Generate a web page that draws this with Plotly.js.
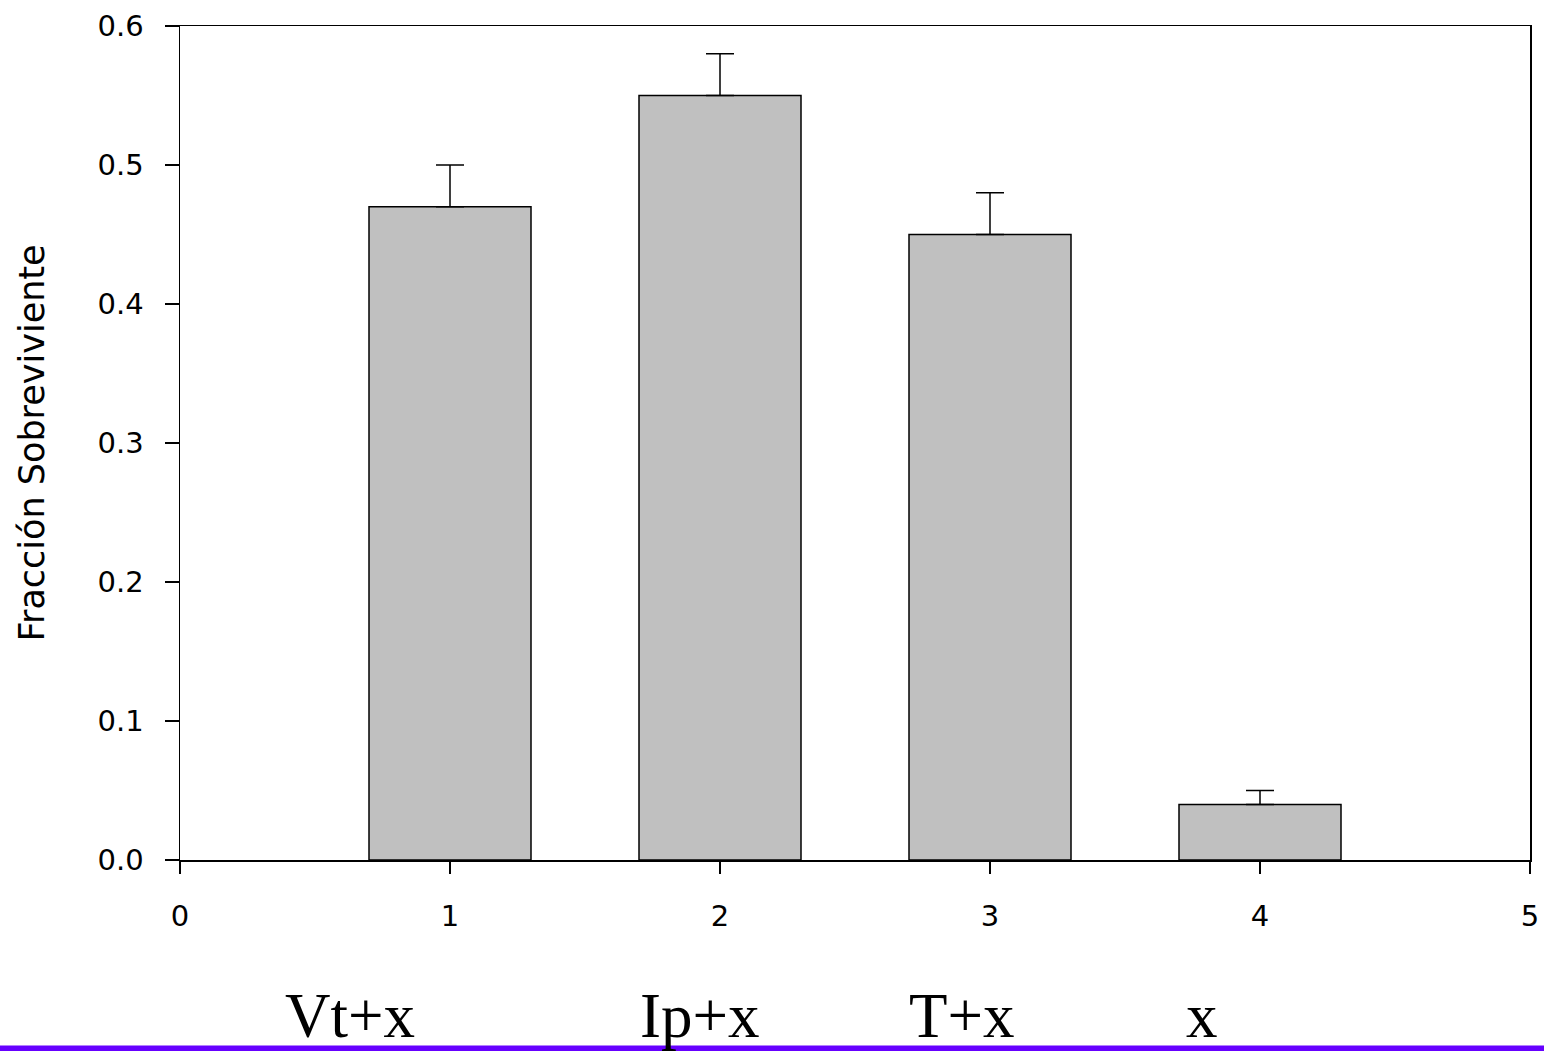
<!DOCTYPE html>
<html>
<head>
<meta charset="utf-8">
<script src="https://cdn.plot.ly/plotly-3.0.1.min.js"></script>
<style>
  html, body { margin: 0; padding: 0; background: #ffffff; }
  #chart { width: 1544px; height: 1051px; }
</style>
</head>
<body>
<div id="chart"></div>
<script>
// ---- data ----
var positions = [1, 2, 3, 4];
var fraction = [0.47, 0.55, 0.45, 0.04];
var errorsUp = [0.03, 0.03, 0.03, 0.01];
var errorsDown = [0, 0, 0, 0];
var xTickValues = [0, 1, 2, 3, 4, 5];
var groupLabels = ["Vt+x", "Ip+x", "T+x", "x"];
var yTitle = "Fracción Sobreviviente";

// ---- layout helpers (positions of the bottom labels, paper coords) ----
var labelX = [0.126, 0.385, 0.5795, 0.757];

var trace = {
  type: 'bar',
  x: positions,
  y: fraction,
  width: 0.6,
  marker: { color: '#c0c0c0', line: { color: '#000000', width: 1.5 } },
  error_y: {
    type: 'data', symmetric: false,
    array: errorsUp, arrayminus: errorsDown,
    color: '#000000', thickness: 1.5, width: 14
  },
  hoverinfo: 'none'
};

var annotations = groupLabels.map(function (t, i) {
  return {
    text: t, xref: 'paper', yref: 'paper',
    x: labelX[i], y: -0.187, xanchor: 'center', yanchor: 'middle',
    showarrow: false,
    font: { family: '"Liberation Serif", "Times New Roman", serif', size: 63, color: '#000000' }
  };
});

var sans = '"DejaVu Sans", "Liberation Sans", Arial, sans-serif';

var layout = {
  width: 1544, height: 1051,
  margin: { l: 180, r: 14, t: 26, b: 191, pad: 0 },
  paper_bgcolor: '#ffffff', plot_bgcolor: '#ffffff',
  showlegend: false,
  font: { family: sans, color: '#000000' },
  xaxis: {
    range: [0, 5], tickmode: 'array', tickvals: xTickValues,
    ticks: 'outside', ticklen: 12, tickwidth: 1.5, tickcolor: '#000000',
    showline: true, linecolor: '#000000', linewidth: 1.5, mirror: true,
    showgrid: false, zeroline: false, fixedrange: true,
    tickfont: { family: sans, size: 29 }, ticklabelstandoff: 18
  },
  yaxis: {
    range: [0, 0.6], tickmode: 'linear', tick0: 0, dtick: 0.1, tickformat: '.1f',
    ticks: 'outside', ticklen: 14, tickwidth: 1.5, tickcolor: '#000000',
    showline: true, linecolor: '#000000', linewidth: 1.5, mirror: true,
    showgrid: false, zeroline: false, fixedrange: true,
    tickfont: { family: sans, size: 29 }, ticklabelstandoff: 15,
    title: { text: yTitle, font: { family: sans, size: 35 }, standoff: 42 }
  },
  annotations: annotations,
  shapes: [{
    type: 'rect', xref: 'paper', yref: 'paper',
    x0: -0.1334, x1: 1.0104, y0: -0.2295, y1: -0.2225,
    fillcolor: '#6600ff', line: { width: 0 }, layer: 'below'
  }]
};

Plotly.newPlot('chart', [trace], layout, { displayModeBar: false, staticPlot: true });
</script>
</body>
</html>
